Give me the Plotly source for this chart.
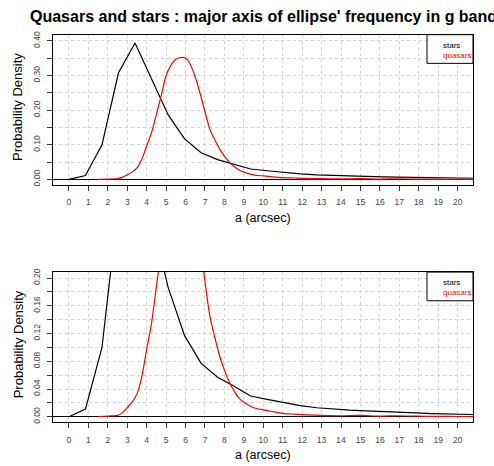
import plotly.graph_objects as go

W, H = 494, 466

title_text = "Quasars and stars : major axis of ellipse' frequency in g band"
x_title = "a (arcsec)"
y_title = "Probability Density"
series_names = ["stars", "quasars"]
series_colors = ["black", "red"]

stars_x = [0.0, 0.85, 1.70, 2.55, 3.40, 4.25, 5.10, 5.95, 6.80, 7.65, 8.50, 9.35, 10.20,
           11.05, 11.90, 12.75, 13.60, 14.45, 15.30, 16.15, 17.00, 17.85, 18.70, 19.55,
           20.40, 21.25]
stars_y = [0.0, 0.011, 0.100, 0.308, 0.394, 0.288, 0.187, 0.117, 0.077, 0.057, 0.044,
           0.030, 0.025, 0.020, 0.016, 0.013, 0.011, 0.0095, 0.0085, 0.0072, 0.0062,
           0.0055, 0.0045, 0.0038, 0.0034, 0.0030]

quasars_x = [1.5, 2.0, 2.5, 2.75, 3.0, 3.25, 3.5, 3.75, 4.0, 4.25, 4.5, 4.75, 5.0, 5.25,
             5.5, 5.75, 6.0, 6.25, 6.5, 6.75, 7.0, 7.25, 7.5, 7.75, 8.0, 8.25, 8.5, 8.75,
             9.0, 9.5, 10.0, 10.5, 11.0, 11.5, 12.0, 13.0, 14.0, 15.0, 16.0, 17.0, 18.0,
             19.0, 20.0, 21.0]
quasars_y = [0.0, 0.001, 0.002, 0.006, 0.013, 0.021, 0.033, 0.058, 0.097, 0.135, 0.188,
             0.242, 0.300, 0.330, 0.347, 0.352, 0.350, 0.332, 0.295, 0.248, 0.195, 0.145,
             0.115, 0.088, 0.067, 0.050, 0.037, 0.027, 0.021, 0.013, 0.010, 0.0075, 0.005,
             0.004, 0.003, 0.002, 0.0015, 0.002, 0.001, 0.0015, 0.0008, 0.0005, 0.0004,
             0.0003]

x_ticks = list(range(0, 21))
x_ticklabels = [str(v) for v in x_ticks]

top_yticks = [0.0, 0.05, 0.10, 0.15, 0.20, 0.25, 0.30, 0.35, 0.40]
top_yticklabels = ["0.00", "", "0.10", "", "0.20", "", "0.30", "", "0.40"]
bot_yticks = [0.0, 0.02, 0.04, 0.06, 0.08, 0.10, 0.12, 0.14, 0.16, 0.18, 0.20]
bot_yticklabels = ["0.00", "", "0.04", "", "0.08", "", "0.12", "", "0.16", "", "0.20"]

FONT = "Liberation Sans, Arial, Helvetica, sans-serif"


def px(x):
    return x / W


def py(y):
    return 1 - y / H


# plot boxes (pixels): left, right, top, bottom
boxes = [(53, 473, 31, 183), (53, 473, 271, 423)]

fig = go.Figure()
for i, (sfx) in enumerate(["", "2"]):
    xa = "x" + sfx
    ya = "y" + sfx
    fig.add_trace(go.Scatter(x=stars_x, y=stars_y, mode="lines", name=series_names[0],
                             line=dict(color=series_colors[0], width=1.2),
                             xaxis=xa, yaxis=ya, showlegend=False))
    fig.add_trace(go.Scatter(x=quasars_x, y=quasars_y, mode="lines", name=series_names[1],
                             line=dict(color=series_colors[1], width=1.2, shape="spline",
                                       smoothing=0.7),
                             xaxis=xa, yaxis=ya, showlegend=False))

GRID = "#d4d4d4"
common_x = dict(range=[-0.82, 20.79], tickvals=x_ticks, ticktext=x_ticklabels,
                ticks="outside", ticklen=5, tickcolor="#333", tickwidth=1,
                showline=True, linecolor="black", linewidth=1, mirror=True,
                showgrid=True, gridcolor=GRID, griddash="dot", gridwidth=1,
                zeroline=False, tickfont=dict(size=8.5, color="#444", family=FONT),
                ticklabelstandoff=4)
common_y = dict(ticks="outside", ticklen=5, tickcolor="#333", tickwidth=1,
                showline=True, linecolor="black", linewidth=1, mirror=True,
                showgrid=True, gridcolor=GRID, griddash="dot", gridwidth=1,
                zeroline=True, zerolinecolor="black", zerolinewidth=1.2,
                tickangle=-90, tickfont=dict(size=8.5, color="#444", family=FONT),
                ticklabelstandoff=4)

b0, b1 = boxes
fig.update_layout(
    width=W, height=H, margin=dict(l=0, r=0, t=0, b=0),
    paper_bgcolor="white", plot_bgcolor="white",
    xaxis=dict(domain=[px(b0[0]), px(b0[1])], anchor="y", **common_x),
    yaxis=dict(domain=[py(b0[3]), py(b0[2])], anchor="x", range=[-0.0163, 0.418],
               tickvals=top_yticks, ticktext=top_yticklabels, **common_y),
    xaxis2=dict(domain=[px(b1[0]), px(b1[1])], anchor="y2", **common_x),
    yaxis2=dict(domain=[py(b1[3]), py(b1[2])], anchor="x2", range=[-0.0082, 0.2086],
                tickvals=bot_yticks, ticktext=bot_yticklabels, **common_y),
    showlegend=False,
)

annotations = [dict(text="<b>" + title_text + "</b>", x=px(263), y=py(13), xref="paper",
                    yref="paper", xanchor="center", yanchor="middle", showarrow=False,
                    font=dict(size=16, color="black", family=FONT))]
shapes = []
for (l, r, t, b) in boxes:
    cy = (t + b) / 2
    annotations.append(dict(text=y_title, x=px(18), y=py(cy - 3), xref="paper", yref="paper",
                            xanchor="center", yanchor="middle", textangle=-90,
                            showarrow=False, font=dict(size=13, color="black", family=FONT)))
    annotations.append(dict(text=x_title, x=px((l + r) / 2), y=py(b + 33), xref="paper",
                            yref="paper", xanchor="center", yanchor="middle",
                            showarrow=False, font=dict(size=12.5, color="black", family=FONT)))
    # legend box
    shapes.append(dict(type="rect", xref="paper", yref="paper", x0=px(427), x1=px(r),
                       y0=py(t + 29), y1=py(t), line=dict(color="black", width=1),
                       fillcolor="white", layer="above"))
    for j, nm in enumerate(series_names):
        annotations.append(dict(text=nm, x=px(441), y=py(t + 11 + 10 * j), xref="paper",
                                yref="paper", xanchor="left", yanchor="middle", align="left",
                                showarrow=False,
                                font=dict(size=8, color=series_colors[j], family=FONT)))

fig.update_layout(annotations=annotations, shapes=shapes)
fig.write_html("out.html")
